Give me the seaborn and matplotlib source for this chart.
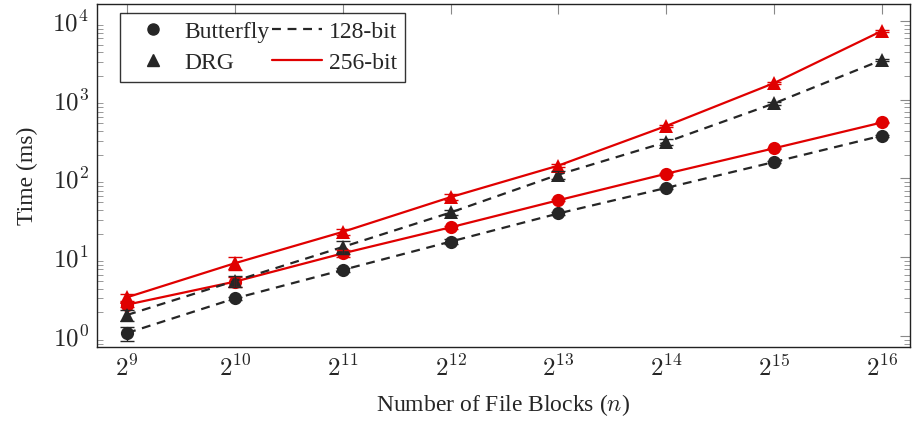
import pandas as pd
import numpy as np
import matplotlib
matplotlib.use('Agg')
import matplotlib.pyplot as plt
import seaborn as sns
from matplotlib.lines import Line2D
from matplotlib.ticker import FixedLocator, FixedFormatter, LogLocator, NullFormatter

blocks = [2**9, 2**10, 2**11, 2**12, 2**13, 2**14, 2**15, 2**16]
x_labels = [r'$2^{9}$', r'$2^{10}$', r'$2^{11}$', r'$2^{12}$', r'$2^{13}$', r'$2^{14}$', r'$2^{15}$', r'$2^{16}$']
y_ticks = [1, 10, 100, 1000, 10000]
y_labels = [r'$10^{0}$', r'$10^{1}$', r'$10^{2}$', r'$10^{3}$', r'$10^{4}$']

butterfly_128 = [1.09, 3.0, 6.9, 15.8, 36, 76, 162, 350]
butterfly_256 = [2.5, 4.9, 11.2, 24, 53, 115, 242, 515]
drg_128 = [1.85, 5.0, 13.5, 37, 112, 290, 900, 3200]
drg_256 = [3.1, 8.4, 21, 58, 146, 465, 1630, 7500]

butterfly_128_err = [0.22, 0.1, 0.5, 1.0, 1.5, 3, 5, 10]
butterfly_256_err = [0.2, 0.7, 1.0, 1.0, 1.5, 3, 5, 10]
drg_128_err = [0.28, 0.8, 2.5, 3, 14, 25, 40, 100]
drg_256_err = [0.3, 1.6, 2.0, 5, 8, 20, 60, 200]

black = '#262626'
red = '#e00000'
dash = (0, (4, 3))

series = [
    ('Butterfly', '128-bit', butterfly_128, butterfly_128_err, 'o', black, dash),
    ('Butterfly', '256-bit', butterfly_256, butterfly_256_err, 'o', red, '-'),
    ('DRG', '128-bit', drg_128, drg_128_err, '^', black, dash),
    ('DRG', '256-bit', drg_256, drg_256_err, '^', red, '-'),
]

sns.set_style('white')
plt.rcParams['font.family'] = ['Liberation Serif', 'DejaVu Serif']
plt.rcParams['mathtext.fontset'] = 'cm'

fig = plt.figure(figsize=(9.13, 4.23), dpi=100)
ax = fig.add_axes([0.1062, 0.1797, 0.8905, 0.8108])

for method, bits, vals, errs, marker, color, ls in series:
    df = pd.DataFrame({'blocks': blocks, 'time': vals})
    sns.lineplot(data=df, x='blocks', y='time', ax=ax, color=color, linestyle=ls,
                 linewidth=1.6, marker=marker, markersize=9.5, markeredgewidth=0,
                 markerfacecolor=color, legend=False)
    ax.errorbar(blocks, vals, yerr=errs, fmt='none', ecolor=color, elinewidth=1,
                capsize=5, capthick=1, zorder=3)

ax.set_xscale('log', base=2)
ax.set_yscale('log')
ax.set_xlim(2**8.72, 2**16.26)
ax.set_ylim(10**-0.14, 10**4.216)
ax.xaxis.set_major_locator(FixedLocator(blocks))
ax.xaxis.set_major_formatter(FixedFormatter(x_labels))
ax.xaxis.set_minor_locator(FixedLocator([]))
ax.yaxis.set_major_locator(FixedLocator(y_ticks))
ax.yaxis.set_major_formatter(FixedFormatter(y_labels))
ax.yaxis.set_minor_locator(LogLocator(base=10, subs=np.arange(2, 10), numticks=10))
ax.yaxis.set_minor_formatter(NullFormatter())

ax.tick_params(axis='both', which='major', direction='in', length=7, width=0.8,
               color='#888888', labelsize=18, top=True, right=True, pad=6)
ax.tick_params(axis='y', which='minor', direction='in', length=4, width=0.6,
               color='#888888', left=True, right=True)
for s in ax.spines.values():
    s.set_color('#222222')
    s.set_linewidth(1)

ax.set_xlabel('Number of File Blocks ($n$)', fontsize=17, labelpad=8)
ax.set_ylabel('Time (ms)', fontsize=17, labelpad=10)

handles = [
    Line2D([], [], color=black, marker='o', linestyle='none', markersize=8),
    Line2D([], [], color=black, marker='^', linestyle='none', markersize=8),
    Line2D([], [], color=black, linestyle=dash, linewidth=1.6),
    Line2D([], [], color=red, linestyle='-', linewidth=1.6),
]
labels = ['Butterfly', 'DRG', '128-bit', '256-bit']
leg = ax.legend(handles, labels, ncol=2, loc='upper left', bbox_to_anchor=(0.028, 0.974),
                fontsize=17, frameon=True, fancybox=False, edgecolor='black',
                borderaxespad=0, handlelength=2.1, columnspacing=0.1, handletextpad=0.3,
                labelspacing=0.4, borderpad=0.35)
leg.get_frame().set_linewidth(1)

plt.savefig('out.png', dpi=100)
